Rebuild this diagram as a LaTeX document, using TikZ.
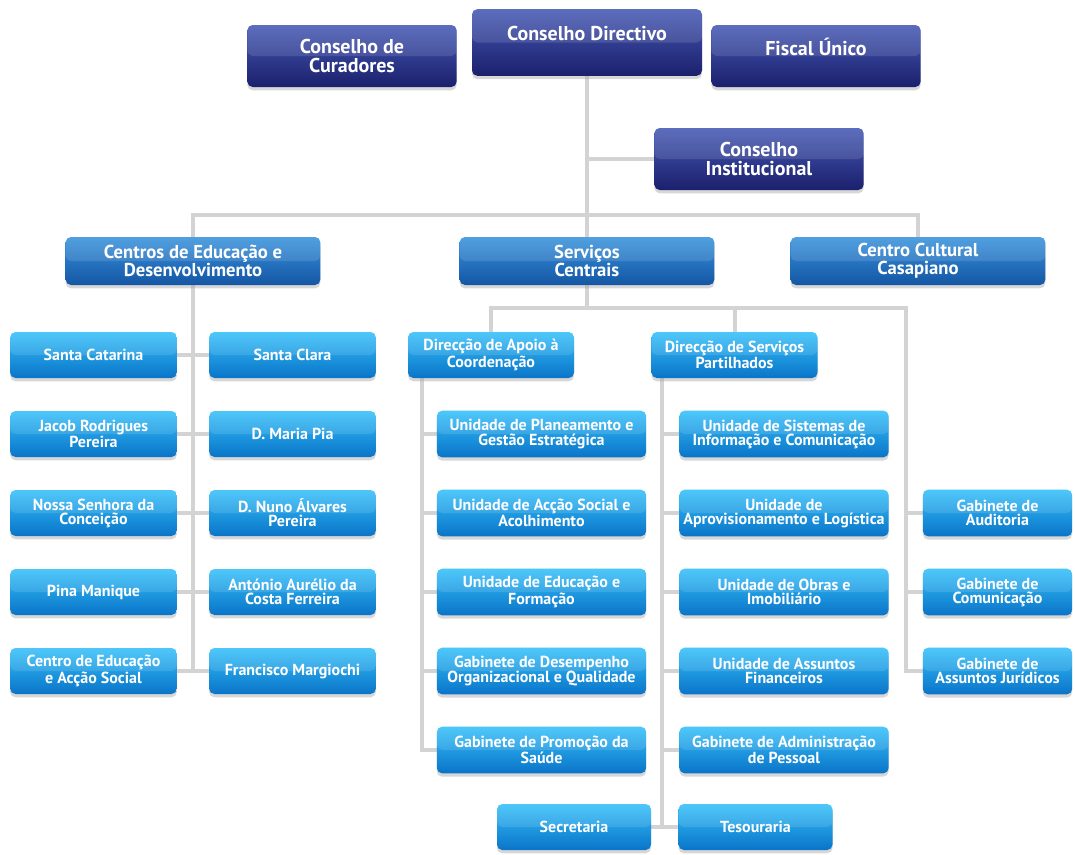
\documentclass[tikz,border=0pt]{standalone}
\usepackage{fontspec}
\setmainfont{PT Sans}
\usetikzlibrary{shadows,backgrounds}

\definecolor{navytop}{HTML}{4659B4}
\definecolor{navybot}{HTML}{1B206C}
\definecolor{midtop}{HTML}{3892DC}
\definecolor{midbot}{HTML}{1556A4}
\definecolor{lighttop}{HTML}{35C0FA}
\definecolor{lightbot}{HTML}{0A74C8}
\definecolor{linegray}{HTML}{D3D3D3}

\begin{document}
\begin{tikzpicture}[x={(0.75pt,0)},y={(0,-0.75pt)},
    box/.style={rounded corners=4pt,text=white,align=center,inner sep=1pt,
      drop shadow={shadow xshift=0pt,shadow yshift=-2.5pt,fill=black!35,opacity=.45},
      path picture={\fill[white,opacity=.12] (path picture bounding box.north west) rectangle (path picture bounding box.east);}},
    navy/.style={box,top color=navytop,bottom color=navybot,minimum width=157pt,minimum height=46.5pt,
      font=\bfseries\fontsize{15}{14}\selectfont},
    mid/.style={box,top color=midtop,bottom color=midbot,minimum width=191pt,minimum height=36pt,
      font=\bfseries\fontsize{14}{13.5}\selectfont},
    unit/.style={box,top color=lighttop,bottom color=lightbot,minimum width=157pt,minimum height=35pt,
      font=\bfseries\fontsize{12}{10.5}\selectfont},
    link/.style={draw=linegray,line width=3pt}]
\useasboundingbox (0,0) rectangle (1075,854);

% topo
\node[navy] (cur) at (352,56) {Conselho de\\Curadores};
\node[navy,minimum width=172.5pt,minimum height=50pt] (dir) at (587,42.5) {Conselho Directivo\\ \mbox{}};
\node[navy] (fis) at (816,56) {Fiscal Único\\ \mbox{}};
\node[navy] (inst) at (759,159) {Conselho\\Institucional};

% segundo nivel
\node[mid] (ced) at (193,261) {Centros de Educação e\\Desenvolvimento};
\node[mid] (serv) at (587,261) {Serviços\\Centrais};
\node[mid] (ccc) at (918,261) {Centro Cultural\\Casapiano};

% centros
\foreach \i/\t in {1/{Santa Catarina},2/{Jacob Rodrigues\\Pereira},3/{Nossa Senhora da\\Conceição},
    4/{Pina Manique},5/{Centro de Educação\\e Acção Social}}
  \node[unit,minimum width=125pt,minimum height=34.5pt] (l\i) at (93.5,{355+79*(\i-1)}) {\t};
\foreach \i/\t in {1/{Santa Clara},2/{D. Maria Pia},3/{D. Nuno Álvares\\Pereira},
    4/{António Aurélio da\\Costa Ferreira},5/{Francisco Margiochi}}
  \node[unit,minimum width=125pt,minimum height=34.5pt] (r\i) at (292.5,{355+79*(\i-1)}) {\t};

% servicos centrais
\node[unit,minimum width=124.5pt,minimum height=34.5pt] (apoio) at (491,355) {Direcção de Apoio à\\Coordenação};
\node[unit,minimum width=124.5pt,minimum height=34.5pt] (part) at (734.5,355) {Direcção de Serviços\\Partilhados};
\foreach \i/\t in {1/{Unidade de Planeamento e\\Gestão Estratégica},2/{Unidade de Acção Social e\\Acolhimento},
    3/{Unidade de Educação e\\Formação},4/{Gabinete de Desempenho\\Organizacional e Qualidade},
    5/{Gabinete de Promoção da\\Saúde}}
  \node[unit] (a\i) at (541.5,{434+79*(\i-1)}) {\t};
\foreach \i/\t in {1/{Unidade de Sistemas de\\Informação e Comunicação},2/{Unidade de\\Aprovisionamento e Logística},
    3/{Unidade de Obras e\\Imobiliário},4/{Unidade de Assuntos\\Financeiros},
    5/{Gabinete de Administração\\de Pessoal}}
  \node[unit] (p\i) at (784,{434+79*(\i-1)}) {\t};
\node[unit,minimum width=115.5pt,minimum height=34.5pt] (sec) at (574,827) {Secretaria};
\node[unit,minimum width=115.5pt,minimum height=34.5pt] (tes) at (755.5,827) {Tesouraria};
\node[unit,minimum width=112pt] (gaud) at (997.5,513) {Gabinete de\\Auditoria};
\node[unit,minimum width=112pt] (gcom) at (997.5,592) {Gabinete de\\Comunicação};
\node[unit,minimum width=112pt] (gjur) at (997.5,671) {Gabinete de\\Assuntos Jurídicos};

\coordinate (bus) at (587,215);
\coordinate (bus2) at (587,308);
\coordinate (gcol) at (906,308);
\coordinate (acol) at (422,378);
\coordinate (pcol) at (662,378);

\begin{scope}[on background layer]
\draw[link] (dir.south) -- (serv.north);
\draw[link] (inst.west) -- (inst.west -| dir.south);
\draw[link] (ced.north) |- (bus) -| (ccc.north);
\draw[link] (ced.south) -- (ced.south |- l5.east);
\foreach \i in {1,...,5}
  \draw[link] (l\i.east) -- (r\i.west);
\draw[link] (serv.south) -- (bus2);
\draw[link] (apoio.north) |- (gcol) |- (gjur.west);
\draw[link] (part.north) -- (part.north |- gcol);
\draw[link] (gaud.west) -- (gaud.west -| gcol);
\draw[link] (gcom.west) -- (gcom.west -| gcol);
\draw[link] (acol) |- (a5.west);
\foreach \i in {1,...,4}
  \draw[link] (a\i.west) -- (a\i.west -| acol);
\draw[link] (pcol) |- (tes.west);
\draw[link] (sec.east) -- (tes.west);
\foreach \i in {1,...,5}
  \draw[link] (p\i.west) -- (p\i.west -| pcol);
\end{scope}
\end{tikzpicture}
\end{document}
